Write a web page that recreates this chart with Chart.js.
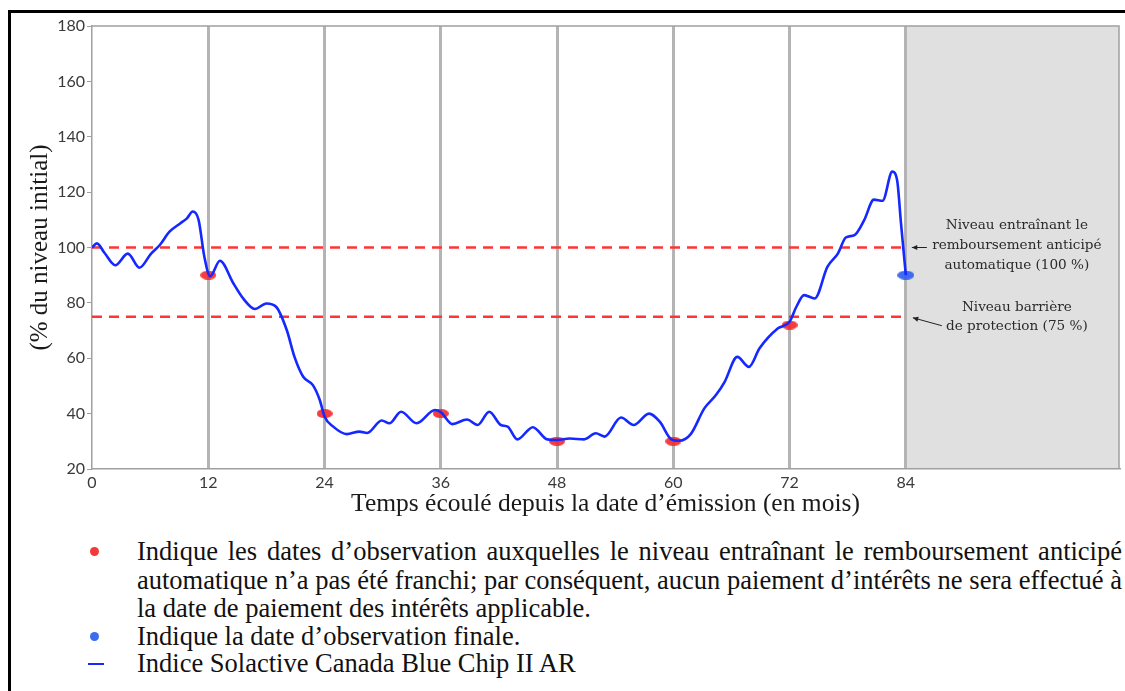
<!DOCTYPE html>
<html lang="fr">
<head>
<meta charset="utf-8">
<script src="https://cdn.jsdelivr.net/npm/chart.js@4/dist/chart.umd.min.js"></script>
<style>
  html, body { margin: 0; padding: 0; background: #fff; }
  body { width: 1125px; height: 691px; position: relative; overflow: hidden; }
  #wrap { position: absolute; left: 0; top: 0; width: 1125px; height: 530px; }
  .frame { position: absolute; left: 8px; top: 10px; width: 1300px; height: 900px; border: 3px solid #000; pointer-events: none; }
  .legend { position: absolute; left: 0; top: 0; font-family: "Liberation Serif", "Times New Roman", serif; font-size: 26.5px; color: #111; }
  .legend .ln { position: absolute; left: 137px; width: 985px; white-space: nowrap; line-height: 26px; }
  .legend .just { text-align: justify; text-align-last: justify; white-space: normal; }
  .dot { position: absolute; width: 9px; height: 9px; border-radius: 50%; }
  .dash { position: absolute; width: 16px; height: 2px; background: #1428ff; }
</style>
</head>
<body>
<div id="wrap"><canvas id="chart"></canvas></div>

<div class="legend">
  <div class="dot" style="left:90px; top:547px; background:#f23a3a;"></div>
  <div class="ln just" style="top:538px;">Indique les dates d’observation auxquelles le niveau entraînant le remboursement anticipé</div>
  <div class="ln just" style="top:567px;">automatique n’a pas été franchi; par conséquent, aucun paiement d’intérêts ne sera effectué à</div>
  <div class="ln" style="top:595px;">la date de paiement des intérêts applicable.</div>
  <div class="dot" style="left:90px; top:632px; background:#3b6cf0;"></div>
  <div class="ln" style="top:623px;">Indique la date d’observation finale.</div>
  <div class="dash" style="left:88px; top:663px;"></div>
  <div class="ln" style="top:650px;">Indice Solactive Canada Blue Chip II AR</div>
</div>
<div class="frame"></div>

<script>
// valeurs (mois écoulés / % du niveau initial)
const months = [0, 0.5, 1.3, 2.4, 3.7, 4.9, 6.1, 7.0, 8.0, 9.1,
  9.8, 10.4, 11.0, 11.6, 12.2, 13.2, 14.6, 15.6, 16.8, 18.0,
  19.0, 20.1, 20.9, 21.8, 22.8, 23.5, 24.0, 24.9, 26.3, 27.6,
  28.4, 29.9, 30.7, 31.9, 33.5, 35.4, 36.0, 37.2, 38.7, 39.8,
  41.0, 42.2, 42.9, 43.9, 45.5, 47.0, 48.0, 49.3, 50.8, 52.0,
  52.9, 54.6, 55.9, 57.5, 58.6, 59.8, 60.6, 61.8, 63.2, 64.4,
  65.3, 66.6, 67.8, 68.9, 70.8, 72.0, 72.7, 73.5, 74.6, 75.9,
  77.0, 77.8, 78.7, 79.7, 80.7, 81.6, 82.6, 83.1, 83.5, 84.0];
const indexValues = [100, 101.5, 98, 93.6, 97.8, 92.7, 97.8, 100.9, 105.7, 108.7,
  110.5, 113, 110, 96.6, 89.6, 95.2, 87, 81.6, 77.8, 79.8,
  78.6, 70.2, 60.5, 53.3, 50.3, 45, 39, 35.3, 32.6, 33.5,
  33, 37.5, 36.5, 40.7, 36.5, 41.3, 40.5, 36.2, 37.9, 35.9,
  40.7, 35.9, 35.3, 30.7, 35.1, 30.7, 30.5, 31, 30.7, 32.9,
  31.7, 38.6, 35.9, 40, 37.1, 30.7, 30.2, 32.6, 41.9, 46.7,
  51.5, 60.5, 56.9, 63.6, 70.8, 73.2, 78.6, 82.8, 81.6, 93,
  97.9, 103.6, 104.5, 109.9, 117.3, 116.9, 127.4, 124.3, 108.7, 90];

// dates d'observation (points rouges) et date finale (point bleu)
const obsMonths = [12, 24, 36, 48, 60, 72];
const obsValues = [90, 40, 40, 30, 30, 72];
const finalMonths = [84];
const finalValues = [90];

// niveaux : remboursement anticipé 100 %, barrière 75 %
const levels = [100, 75];
const levelStart = 0;
const levelEnd = 84;

const xTicks = [0, 12, 24, 36, 48, 60, 72, 84];
const xMax = 106;
const yMin = 20, yMax = 180, yStep = 20;
const shadeFrom = 84;

function ellipse(w, h, color) {
  const c = document.createElement('canvas');
  c.width = w; c.height = h;
  const g = c.getContext('2d');
  g.fillStyle = color;
  g.beginPath();
  g.ellipse(w / 2, h / 2, w / 2, h / 2, 0, 0, Math.PI * 2);
  g.fill();
  return c;
}
const redDot = ellipse(16, 9, 'rgba(245,40,40,0.9)');
const blueDot = ellipse(17, 9, 'rgba(55,100,240,0.95)');

const toXY = (xs, ys) => xs.map((x, i) => ({ x: x, y: ys[i] }));

const fond = {
  id: 'fond',
  beforeDraw(chart) {
    const { ctx, chartArea: a, scales: { x } } = chart;
    const x0 = x.getPixelForValue(shadeFrom);
    ctx.save();
    ctx.fillStyle = '#e0e0e0';
    ctx.fillRect(x0, a.top, a.right - x0, a.bottom - a.top);
    ctx.restore();
  },
  afterDraw(chart) {
    const { ctx, chartArea: a, scales: { x, y } } = chart;
    ctx.save();
    // cadre du graphique (haut et droite)
    ctx.strokeStyle = '#a0a0a0';
    ctx.lineWidth = 1.5;
    ctx.beginPath();
    ctx.moveTo(a.left, a.top);
    ctx.lineTo(a.right, a.top);
    ctx.lineTo(a.right, a.bottom);
    ctx.stroke();

    const x84 = x.getPixelForValue(shadeFrom);
    const y100 = y.getPixelForValue(levels[0]);
    const y75 = y.getPixelForValue(levels[1]);
    const cx = x84 + 111;
    ctx.fillStyle = '#2a2a2a';
    ctx.font = '13.6px "DejaVu Serif", serif';
    ctx.textAlign = 'center';
    ctx.textBaseline = 'middle';
    ctx.fillText('Niveau entraînant le', cx, y100 - 22);
    ctx.fillText('remboursement anticipé', cx, y100 - 2);
    ctx.fillText('automatique (100 %)', cx, y100 + 18);
    ctx.fillText('Niveau barrière', cx, y75 - 9);
    ctx.fillText('de protection (75 %)', cx, y75 + 10);

    // flèches
    function arrow(x1, y1, x2, y2) {
      const ang = Math.atan2(y2 - y1, x2 - x1);
      ctx.strokeStyle = '#222';
      ctx.fillStyle = '#222';
      ctx.lineWidth = 1;
      ctx.beginPath();
      ctx.moveTo(x1, y1);
      ctx.lineTo(x2, y2);
      ctx.stroke();
      ctx.beginPath();
      ctx.moveTo(x2, y2);
      ctx.lineTo(x2 - 6 * Math.cos(ang - 0.45), y2 - 6 * Math.sin(ang - 0.45));
      ctx.lineTo(x2 - 6 * Math.cos(ang + 0.45), y2 - 6 * Math.sin(ang + 0.45));
      ctx.closePath();
      ctx.fill();
    }
    arrow(x84 + 21, y100, x84 + 6, y100);
    arrow(x84 + 36, y75 + 9, x84 + 7, y75 + 1);
    ctx.restore();
  }
};

const ctx = document.getElementById('chart').getContext('2d');
const chart = new Chart(ctx, {
  type: 'line',
  data: {
    datasets: [
      {
        label: 'Indice Solactive Canada Blue Chip II AR',
        data: toXY(months, indexValues),
        borderColor: '#1428ff',
        borderWidth: 2.6,
        pointRadius: 0,
        cubicInterpolationMode: 'monotone',
        order: 0
      },
      {
        label: 'Dates d’observation',
        type: 'scatter',
        data: toXY(obsMonths, obsValues),
        pointStyle: redDot,
        order: 1
      },
      {
        label: 'Date d’observation finale',
        type: 'scatter',
        data: toXY(finalMonths, finalValues),
        pointStyle: blueDot,
        order: 1
      },
      ...levels.map(v => ({
        label: v + ' %',
        data: [{ x: levelStart, y: v }, { x: levelEnd, y: v }],
        borderColor: '#ff3535',
        borderWidth: 2.6,
        borderDash: [10, 7],
        pointRadius: 0,
        order: 2
      }))
    ]
  },
  options: {
    responsive: true,
    maintainAspectRatio: false,
    animation: false,
    layout: { padding: { top: 26, right: 6, left: 0, bottom: 0 } },
    plugins: { legend: { display: false }, tooltip: { enabled: false } },
    scales: {
      x: {
        type: 'linear',
        min: 0,
        max: xMax,
        afterBuildTicks: s => { s.ticks = xTicks.map(v => ({ value: v })); },
        afterFit: s => { s.height = 61; },
        grid: {
          color: c => (c.tick && c.tick.value === 0) ? 'rgba(0,0,0,0)' : '#b4b4b4',
          lineWidth: 3,
          drawTicks: false
        },
        border: { display: true, color: '#a0a0a0', width: 1.5 },
        ticks: { color: '#3a3a3a', font: { family: 'Lato', size: 16 }, padding: 4 },
        title: {
          display: true,
          text: 'Temps écoulé depuis la date d’émission (en mois)',
          color: '#1a1a1a',
          font: { family: '"Liberation Serif", serif', size: 25.5 },
          padding: { top: 0, bottom: 10 }
        }
      },
      y: {
        min: yMin,
        max: yMax,
        ticks: { stepSize: yStep, color: '#3a3a3a', font: { family: 'Lato', size: 16 }, padding: 2 },
        afterFit: s => { s.width = 92; },
        grid: { drawOnChartArea: false, tickColor: '#a0a0a0', tickLength: 5 },
        border: { display: true, color: '#a0a0a0', width: 1.5 },
        title: {
          display: true,
          text: '(% du niveau initial)',
          color: '#1a1a1a',
          font: { family: '"Liberation Serif", serif', size: 25 },
          padding: { top: 25, bottom: 0 }
        }
      }
    }
  },
  plugins: [fond]
});
</script>
</body>
</html>
